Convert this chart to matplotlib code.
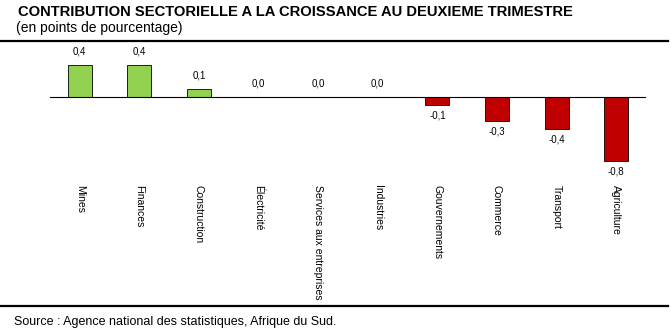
import matplotlib.pyplot as plt

# Contribution sectorielle (points de pourcentage)
secteurs = ["Mines", "Finances", "Construction", "Électricité", "Services aux entreprises",
            "Industries", "Gouvernements", "Commerce", "Transport", "Agriculture"]
valeurs = [0.4, 0.4, 0.1, 0.0, 0.0, 0.0, -0.1, -0.3, -0.4, -0.8]
etiquettes = ["0,4", "0,4", "0,1", "0,0", "0,0", "0,0", "-0,1", "-0,3", "-0,4", "-0,8"]

plt.rcParams["font.family"] = ["Liberation Sans", "DejaVu Sans"]

W, H = 671, 332
fig = plt.figure(figsize=(W / 100, H / 100), dpi=100)

# axes placed in pixel coordinates: x 50..646, y 45..175
ax = fig.add_axes([50 / W, 1 - 175 / H, 596 / W, 130 / H])
couleurs = ["#92D050" if v > 0 else "#C00000" for v in valeurs]
x = range(len(secteurs))
ax.bar(x, valeurs, width=0.4, color=couleurs, edgecolor="black", linewidth=0.6, zorder=2)
ax.axhline(0, color="black", linewidth=0.8, zorder=3)
ax.set_xlim(-0.5, 9.5)
ax.set_ylim(-0.975, 0.65)

for i, (v, lab) in enumerate(zip(valeurs, etiquettes)):
    if v >= 0:
        ax.annotate(lab, (i, v), xytext=(0, 6), textcoords="offset points",
                    ha="center", va="bottom", fontsize=7)
    else:
        ax.annotate(lab, (i, v), xytext=(0, -4), textcoords="offset points",
                    ha="center", va="top", fontsize=7)

ax.set_xticks(list(x))
ax.set_xticklabels(secteurs, rotation=270, va="top", ha="center", fontsize=7.5)
ax.tick_params(axis="x", length=0, pad=7.5)
ax.set_yticks([])
for s in ax.spines.values():
    s.set_visible(False)

fig.text(18 / W, 1 - 12 / H, "CONTRIBUTION SECTORIELLE A LA CROISSANCE AU DEUXIEME TRIMESTRE",
         fontsize=10.6, fontweight="bold", va="center", ha="left")
fig.text(16 / W, 1 - 28 / H, "(en points de pourcentage)", fontsize=10, va="center", ha="left")
fig.text(14 / W, 1 - 322 / H, "Source : Agence national des statistiques, Afrique du Sud.",
         fontsize=9, va="center", ha="left")
fig.add_artist(plt.Line2D([0, 668 / W], [1 - 41 / H] * 2, color="black", linewidth=1.6))
fig.add_artist(plt.Line2D([0, 668 / W], [1 - 306 / H] * 2, color="black", linewidth=1.6))

fig.savefig("out.png", dpi=100)
